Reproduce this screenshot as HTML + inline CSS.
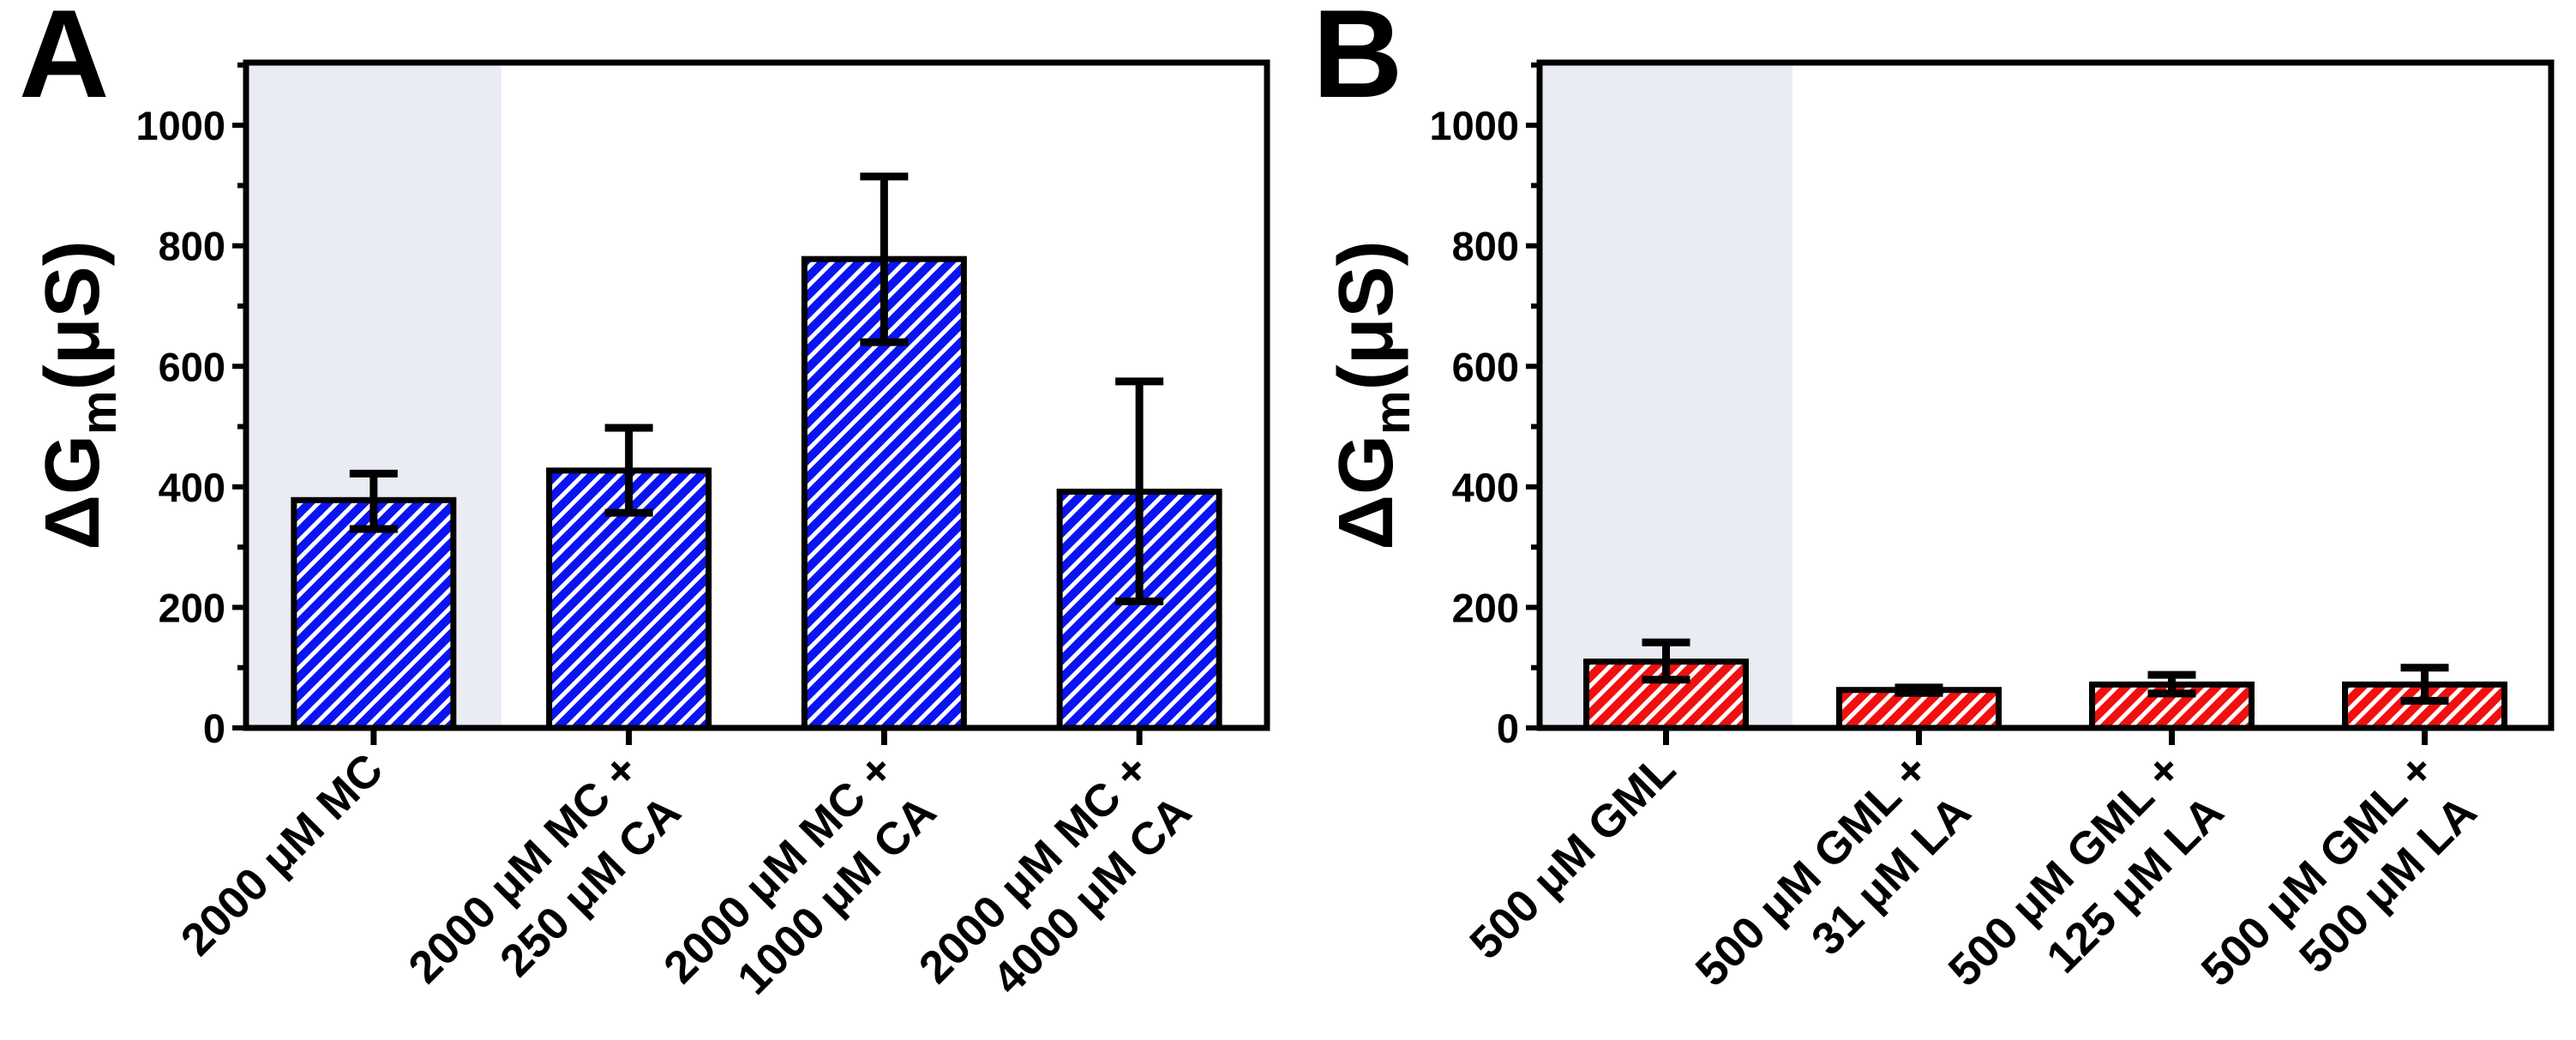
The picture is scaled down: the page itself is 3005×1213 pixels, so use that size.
<!DOCTYPE html>
<html><head><meta charset="utf-8"><style>
html,body{margin:0;padding:0;background:#fff;}
svg{display:block;font-family:"Liberation Sans",Arial,sans-serif;font-weight:bold;}
</style></head><body>
<svg id="fig" width="3005" height="1213" viewBox="0 0 3005 1213" xmlns="http://www.w3.org/2000/svg">
<defs>
<pattern id="hatchBlue" patternUnits="userSpaceOnUse" width="15" height="15" patternTransform="rotate(45)">
<rect width="15" height="15" fill="#0a14f0"/><rect x="0" y="0" width="5" height="15" fill="#fff"/></pattern>
<pattern id="hatchRed" patternUnits="userSpaceOnUse" width="15" height="15" patternTransform="rotate(45)">
<rect width="15" height="15" fill="#f01010"/><rect x="0" y="0" width="5" height="15" fill="#fff"/></pattern>
</defs>
</svg>
<script>
const catsA = [["2000 μM MC"],["2000 μM MC +","250 μM CA"],["2000 μM MC +","1000 μM CA"],["2000 μM MC +","4000 μM CA"]];
const valsA = [378, 427, 778, 392];
const errLoA = [330, 357, 640, 210];
const errHiA = [422, 498, 915, 575];
const catsB = [["500 μM GML"],["500 μM GML +","31 μM LA"],["500 μM GML +","125 μM LA"],["500 μM GML +","500 μM LA"]];
const valsB = [110, 63, 72, 72];
const errLoB = [80, 58, 57, 45];
const errHiB = [142, 67, 88, 100];
const yTicks = [0, 200, 400, 600, 800, 1000];

const NS = "http://www.w3.org/2000/svg";
const svg = document.getElementById('fig');
function mk(tag, attrs, parent){const e=document.createElementNS(NS,tag);for(const k in attrs)e.setAttribute(k,attrs[k]);(parent||svg).appendChild(e);return e;}

function panel(letter, left, right, cats, vals, lo, hi, fill, nm){
  const top=73, bottom=849, ymax=1104;
  const y = v => bottom - v/ymax*(bottom-top);
  const band = (right-left)/cats.length;
  const xc = i => left + band*(i+0.5);
  const g = mk('g',{});
  
  
  const sh = mk('rect',{x:left,y:top,width:band,height:bottom-top,fill:'#e9ecf2'},g);
  
  
  const bw = 186;
  vals.forEach((v,i)=>{
    const b = mk('rect',{x:xc(i)-bw/2,y:y(v),width:bw,height:bottom-y(v),fill:fill,stroke:'#000','stroke-width':7},g);
    
    
    const eb = mk('path',{d:`M${xc(i)},${y(lo[i])}V${y(hi[i])}M${xc(i)-28},${y(lo[i])}H${xc(i)+28}M${xc(i)-28},${y(hi[i])}H${xc(i)+28}`,stroke:'#000','stroke-width':9,fill:'none'},g);
    
    
    const tk = mk('line',{x1:xc(i),x2:xc(i),y1:bottom,y2:bottom+20,stroke:'#000','stroke-width':7},g);
    
    
    const t = mk('text',{transform:`translate(${xc(i)+14},${bottom+52}) rotate(-45)`,'text-anchor':'end','font-size':53},g);
    
    
    cats[i].forEach((s,j)=>{const ts=mk('tspan',{x:0,dy:j?70:0},t);ts.textContent=s;});
  });
  const fr = mk('rect',{x:left,y:top,width:right-left,height:bottom-top,fill:'none',stroke:'#000','stroke-width':7},g);
  
  
  for(let v=0; v<=1100; v+=100){
    const major = v%200===0;
    const tk = mk('line',{x1:left-(major?16:10),x2:left,y1:y(v),y2:y(v),stroke:'#000','stroke-width':6},g);
    
    
  }
  yTicks.forEach(v=>{
    const t = mk('text',{x:left-24,y:y(v)+17,'text-anchor':'end','font-size':47},g);
    
    
    t.textContent = v;
  });
  const yl = mk('text',{transform:`translate(${left-172},${(top+bottom)/2}) rotate(-90)`,'text-anchor':'middle','font-size':90},g);
  
  
  const a=mk('tspan',{},yl); a.textContent='ΔG';
  const b=mk('tspan',{'font-size':58,dy:20},yl); b.textContent='m';
  const c=mk('tspan',{dy:-20},yl); c.textContent='(μS)';
  const L = mk('text',{x:left-265,y:113,'font-size':146},g);
  
  
  L.textContent = letter;
}
panel('A', 287, 1478, catsA, valsA, errLoA, errHiA, 'url(#hatchBlue)', 'panel-a');
panel('B', 1796, 2976, catsB, valsB, errLoB, errHiB, 'url(#hatchRed)', 'panel-b');
</script>
</body></html>
